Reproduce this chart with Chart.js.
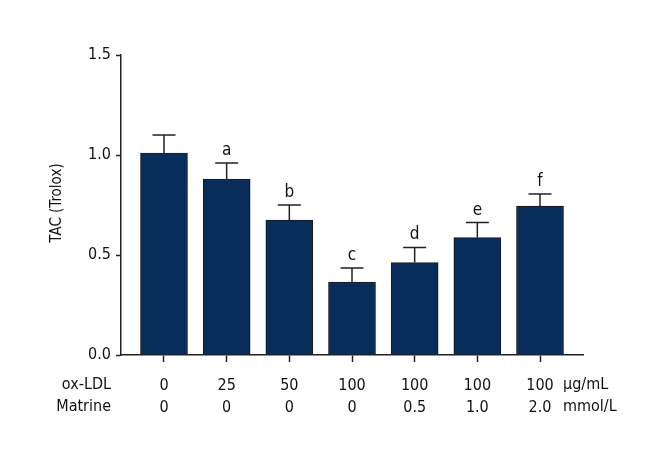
<!DOCTYPE html>
<html>
<head>
<meta charset="utf-8">
<script src="https://cdn.jsdelivr.net/npm/chart.js@4/dist/chart.umd.min.js"></script>
<style>
  html, body { margin: 0; padding: 0; background: #fff; }
  #wrap { width: 660px; height: 460px; }
</style>
</head>
<body>
<div id="wrap"><canvas id="tac_chart" width="660" height="460"></canvas></div>
<script>
// data
const ox_ldl = ["0", "25", "50", "100", "100", "100", "100"];
const matrine = ["0", "0", "0", "0", "0.5", "1.0", "2.0"];
const tac_means = [1.01, 0.88, 0.675, 0.365, 0.462, 0.587, 0.745];
const tac_sd = [0.09, 0.08, 0.075, 0.07, 0.076, 0.075, 0.06];
const sig_letters = ["", "a", "b", "c", "d", "e", "f"];
const y_ticks = [0, 0.5, 1.0, 1.5];

const FONT = "'Liberation Sans Narrow', 'DejaVu Sans Condensed', sans-serif";

let points = [];
for(let i in tac_means){
    points.push({x: parseInt(i), y: tac_means[i]});
}

// error bars, letters, row headers and y title
const extrasPlugin = {
    id: "extras",
    afterDatasetsDraw(chart){
        const ctx = chart.ctx;
        const xs = chart.scales.x;
        const ys = chart.scales.y;
        ctx.save();
        ctx.strokeStyle = "#222";
        ctx.lineWidth = 1.5;
        ctx.fillStyle = "#111";
        ctx.font = "17px " + FONT;
        ctx.textAlign = "center";
        ctx.textBaseline = "alphabetic";
        for(let i in tac_means){
            const px = xs.getPixelForValue(parseInt(i));
            const top = ys.getPixelForValue(tac_means[i]);
            const err = ys.getPixelForValue(tac_means[i] + tac_sd[i]);
            ctx.beginPath();
            ctx.moveTo(px, top);
            ctx.lineTo(px, err);
            ctx.moveTo(px - 11.5, err);
            ctx.lineTo(px + 11.5, err);
            ctx.stroke();
            if(sig_letters[i]){
                ctx.fillText(sig_letters[i], px, err - 8);
            }
        }
        ctx.restore();
    },
    afterDraw(chart){
        const ctx = chart.ctx;
        const area = chart.chartArea;
        ctx.save();
        ctx.fillStyle = "#111";
        ctx.font = "16px " + FONT;
        ctx.textBaseline = "middle";
        ctx.textAlign = "right";
        ctx.fillText("ox-LDL", 111, area.bottom + 30);
        ctx.fillText("Matrine", 111, area.bottom + 52);
        ctx.textAlign = "left";
        ctx.fillText("\u03bcg/mL", 563, area.bottom + 30);
        ctx.fillText("mmol/L", 563, area.bottom + 52);
        // y axis title
        ctx.font = "15px " + FONT;
        ctx.translate(57, (area.top + area.bottom) / 2 - 2);
        ctx.rotate(-Math.PI / 2);
        ctx.textAlign = "center";
        ctx.fillText("TAC (Trolox)", 0, 0);
        ctx.restore();
    }
};

new Chart(document.getElementById("tac_chart").getContext("2d"), {
    type: "bar",
    data: {
        datasets: [{
            label: "TAC",
            data: points,
            backgroundColor: "#082d5b",
            borderColor: "#1b1b1b",
            borderWidth: 1,
            barThickness: 47
        }]
    },
    options: {
        responsive: false,
        animation: false,
        events: [],
        layout: { padding: { top: 55, right: 77, left: 0, bottom: 0 } },
        plugins: {
            legend: { display: false },
            tooltip: { enabled: false }
        },
        scales: {
            x: {
                type: "linear",
                offset: false,
                min: -0.686,
                max: 6.686,
                afterBuildTicks(scale){
                    scale.ticks = ox_ldl.map((v, i) => ({value: i}));
                },
                afterFit(scale){ scale.height = 105; },
                grid: {
                    offset: false,
                    drawOnChartArea: false,
                    drawTicks: true,
                    tickLength: 7,
                    tickColor: "#222",
                    tickWidth: 1.5
                },
                border: { color: "#222", width: 1.5 },
                ticks: {
                    color: "#111",
                    font: { family: FONT, size: 16, lineHeight: 1.375 },
                    padding: 13,
                    maxRotation: 0,
                    autoSkip: false,
                    callback: function(value){
                        return [ox_ldl[value], matrine[value]];
                    }
                }
            },
            y: {
                min: 0,
                max: 1.5,
                afterBuildTicks(scale){
                    scale.ticks = y_ticks.map(v => ({value: v}));
                },
                afterFit(scale){ scale.width = 121; },
                grid: {
                    drawOnChartArea: false,
                    drawTicks: true,
                    tickLength: 5,
                    tickColor: "#222",
                    tickWidth: 1.5
                },
                border: { color: "#222", width: 1.5 },
                ticks: {
                    color: "#111",
                    font: { family: FONT, size: 16 },
                    padding: 5,
                    callback: function(value){ return value.toFixed(1); }
                }
            }
        }
    },
    plugins: [extrasPlugin]
});
</script>
</body>
</html>
